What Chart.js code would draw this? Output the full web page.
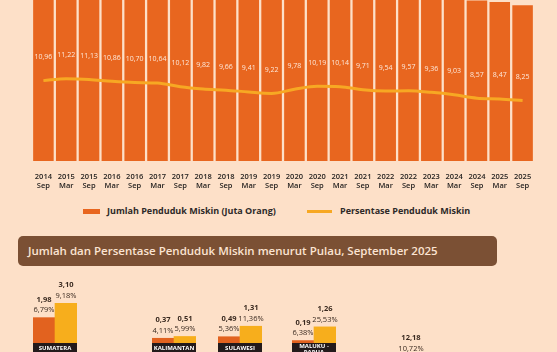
<!DOCTYPE html>
<html>
<head>
<meta charset="utf-8">
<script src="https://cdn.jsdelivr.net/npm/chart.js@4.4.1/dist/chart.umd.min.js"></script>
<style>
    html, body {
        margin: 0;
        padding: 0;
        width: 557px;
        height: 352px;
        overflow: hidden;
        background: #fde0c8;
        font-family: "Open Sans", sans-serif;
    }
    canvas { position: absolute; }
    #trendChart { left: 0; top: -70px; }
    .legend-box { position: absolute; }
    .legend-text {
        position: absolute;
        top: 205px;
        font-size: 9px;
        font-weight: 700;
        color: #2e2a28;
        line-height: 12px;
        white-space: nowrap;
    }
    #sectionTitle {
        position: absolute;
        left: 18px;
        top: 236px;
        width: 479px;
        height: 30px;
        border-radius: 5px;
        background: #7b5034;
        color: #fbe4d2;
        font-size: 11.5px;
        font-weight: 600;
        line-height: 30px;
        padding-left: 10px;
        box-sizing: border-box;
        white-space: nowrap;
    }
</style>
</head>
<body>

<canvas id="trendChart" width="557" height="261"></canvas>

<div class="legend-box" style="left:83px;top:209px;width:17px;height:5px;background:#e8661f;"></div>
<div class="legend-text" style="left:107px;">Jumlah Penduduk Miskin (Juta Orang)</div>
<div class="legend-box" style="left:307px;top:210px;width:25px;height:3px;background:#f7a823;"></div>
<div class="legend-text" style="left:340px;">Persentase Penduduk Miskin</div>

<div id="sectionTitle">Jumlah dan Persentase Penduduk Miskin menurut Pulau, September 2025</div>

<canvas id="islandSumatera" width="64" height="90" style="left:23px;top:270px;"></canvas>
<canvas id="islandKalimantan" width="64" height="90" style="left:142px;top:270px;"></canvas>
<canvas id="islandSulawesi" width="64" height="90" style="left:208px;top:270px;"></canvas>
<canvas id="islandMaluku" width="64" height="90" style="left:282px;top:270px;"></canvas>
<canvas id="islandJawa" width="42" height="259" style="left:390px;top:270px;"></canvas>

<script>
// ============================================
// Data
// ============================================

// periods (x axis)
const periodYears = ["2014", "2015", "2015", "2016", "2016", "2017", "2017", "2018", "2018", "2019", "2019",
    "2020", "2020", "2021", "2021", "2022", "2022", "2023", "2024", "2024", "2025", "2025"];
const periodMonths = ["Sep", "Mar", "Sep", "Mar", "Sep", "Mar", "Sep", "Mar", "Sep", "Mar", "Sep",
    "Mar", "Sep", "Mar", "Sep", "Mar", "Sep", "Mar", "Mar", "Sep", "Mar", "Sep"];

// jumlah penduduk miskin (juta orang) - bar tops are mostly cropped, estimated
const poorCount = [27.73, 28.59, 28.51, 28.01, 27.76, 27.77, 26.58, 25.95, 25.67, 25.14, 24.79,
    26.42, 27.55, 27.54, 26.50, 26.16, 26.36, 25.90, 25.22, 24.06, 23.85, 23.36];

// persentase penduduk miskin (%)
const poorPct = [10.96, 11.22, 11.13, 10.86, 10.70, 10.64, 10.12, 9.82, 9.66, 9.41, 9.22,
    9.78, 10.19, 10.14, 9.71, 9.54, 9.57, 9.36, 9.03, 8.57, 8.47, 8.25];

// per pulau, September 2025 (perkotaan / perdesaan)
const islandNames = ["SUMATERA", "KALIMANTAN", "SULAWESI", "MALUKU -|PAPUA"];
const urbanCount = [1.98, 0.37, 0.49, 0.19];
const urbanPct = [6.79, 4.11, 5.36, 6.38];
const ruralCount = [3.10, 0.51, 1.31, 1.26];
const ruralPct = [9.18, 5.99, 11.36, 25.53];

// Jawa: only the label of one bar is visible at the bottom edge
const javaCount = [12.18];
const javaPct = [10.72];

// Colors
const BAR_COLOR = "#e8661f";
const LINE_COLOR = "#f7a823";
const URBAN_COLOR = "#e2621f";
const RURAL_COLOR = "#f7ae1c";

const fmt = (v) => v.toFixed(2).replace(".", ",");

// ============================================
// Trend chart
// ============================================

const lineLabels = {
    id: "lineLabels",
    afterDatasetsDraw(chart) {
        const meta = chart.getDatasetMeta(1);
        const ctx = chart.ctx;
        ctx.save();
        ctx.font = '500 7px "Open Sans"';
        ctx.fillStyle = "#fde8da";
        ctx.textAlign = "center";
        ctx.textBaseline = "middle";
        meta.data.forEach((pt, i) => {
            ctx.fillText(fmt(poorPct[i]), pt.x, pt.y - 23.5);
        });
        ctx.restore();
    }
};

new Chart(document.getElementById("trendChart"), {
    data: {
        labels: periodYears.map((y, i) => [y, periodMonths[i]]),
        datasets: [
            {
                type: "bar",
                data: poorCount,
                backgroundColor: BAR_COLOR,
                borderWidth: 0,
                categoryPercentage: 1,
                barPercentage: 0.9,
                yAxisID: "y",
                order: 2
            },
            {
                type: "line",
                data: poorPct,
                borderColor: LINE_COLOR,
                borderWidth: 3,
                pointRadius: 0,
                tension: 0.4,
                cubicInterpolationMode: "monotone",
                yAxisID: "y1",
                order: 1
            }
        ]
    },
    options: {
        responsive: false,
        animation: false,
        layout: { padding: { left: 32, right: 23, top: 11, bottom: 0 } },
        plugins: { legend: { display: false }, tooltip: { enabled: false } },
        scales: {
            x: {
                grid: { display: false, drawTicks: false },
                border: { display: false },
                ticks: {
                    padding: 11,
                    maxRotation: 0,
                    autoSkip: false,
                    color: "#262321",
                    font: { family: "Open Sans", size: 7.5, weight: "600", lineHeight: 1.2 }
                },
                afterFit(scale) { scale.height = 30; }
            },
            y: { display: false, min: 0, max: 33 },
            y1: { display: false, min: 0, max: 30 }
        }
    },
    plugins: [lineLabels]
});

// ============================================
// Island charts
// ============================================

const islandLabels = {
    id: "islandLabels",
    afterDatasetsDraw(chart, args, opts) {
        const ctx = chart.ctx;
        const meta = chart.getDatasetMeta(0);
        const counts = chart.data.datasets[0].data;
        ctx.save();
        ctx.textAlign = "center";
        ctx.textBaseline = "middle";
        ctx.fillStyle = "#3a2a20";
        meta.data.forEach((bar, i) => {
            ctx.font = '700 7.5px "Open Sans"';
            ctx.fillText(fmt(counts[i]), bar.x, bar.y - 18);
            ctx.font = '7.5px "Open Sans"';
            ctx.fillText(fmt(opts.pcts[i]) + "%", bar.x, bar.y - 7.5);
        });

        // name box under the bars
        const area = chart.chartArea;
        ctx.fillStyle = "#231a1b";
        ctx.fillRect(area.left, area.bottom, area.right - area.left, 17);
        ctx.fillStyle = "#ffffff";
        ctx.font = '700 6px "Open Sans"';
        const lines = (opts.name || "").split("|");
        const mid = (area.left + area.right) / 2;
        const start = lines.length > 1 ? 3.5 : 5;
        lines.forEach((line, k) => {
            ctx.fillText(line, mid, area.bottom + start + k * 6);
        });
        ctx.restore();
    }
};

function drawIsland(canvasId, counts, pcts, colors, name, yMax) {
    const canvas = document.getElementById(canvasId);
    if (!canvas) return;
    new Chart(canvas, {
        type: "bar",
        data: {
            labels: counts.map((_, i) => i),
            datasets: [{
                data: counts,
                backgroundColor: colors,
                borderWidth: 0,
                categoryPercentage: 1,
                barPercentage: 1
            }]
        },
        options: {
            responsive: false,
            animation: false,
            layout: { padding: { left: 10, right: 10, top: 9, bottom: 17 } },
            plugins: {
                legend: { display: false },
                tooltip: { enabled: false },
                islandLabels: { pcts, name }
            },
            scales: {
                x: { display: false },
                y: { display: false, min: 0, max: yMax }
            }
        },
        plugins: [islandLabels]
    });
}

const islandCanvases = ["islandSumatera", "islandKalimantan", "islandSulawesi", "islandMaluku"];
islandCanvases.forEach((id, i) => {
    drawIsland(id, [urbanCount[i], ruralCount[i]], [urbanPct[i], ruralPct[i]],
        [URBAN_COLOR, RURAL_COLOR], islandNames[i], 5);
});

// same px-per-unit as the others (64px chart area -> 5 units)
drawIsland("islandJawa", javaCount, javaPct, [URBAN_COLOR], "JAWA", 233 / 12.8);
</script>
</body>
</html>
